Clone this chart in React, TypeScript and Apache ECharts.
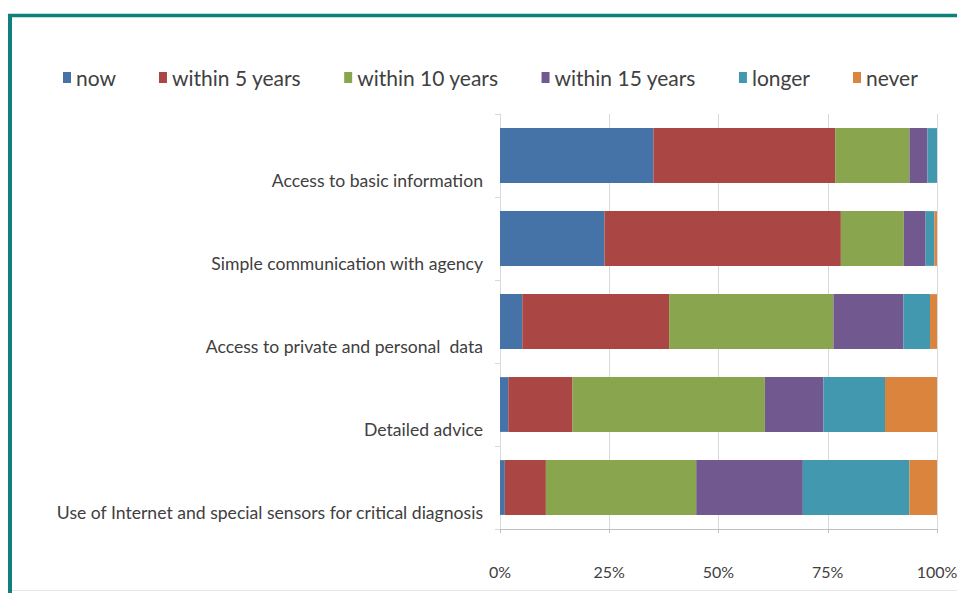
import React, { useEffect, useRef } from "react";
import * as echarts from "echarts";

const categories = [
  "Access to basic information",
  "Simple communication with agency",
  "Access to private and personal  data",
  "Detailed advice",
  "Use of Internet and special sensors for critical diagnosis",
];
const seriesNames = ["now", "within 5 years", "within 10 years", "within 15 years", "longer", "never"];
const nowVals = [35.1, 23.9, 5.1, 1.9, 1.1];
const within5Vals = [41.6, 54.1, 33.6, 14.7, 9.4];
const within10Vals = [17.0, 14.4, 37.6, 44.0, 34.4];
const within15Vals = [4.1, 5.0, 16.0, 13.4, 24.4];
const longerVals = [2.2, 2.0, 6.1, 14.1, 24.4];
const neverVals = [0.0, 0.6, 1.6, 11.9, 6.3];
const colors = ["#4572A7", "#AA4643", "#89A54E", "#71588F", "#4198AF", "#DB843D"];
const xTicks = [0, 25, 50, 75, 100];

const FONT = "Lato, 'Liberation Sans', sans-serif";

export default function App() {
  const ref = useRef<HTMLDivElement>(null);
  useEffect(() => {
    if (!ref.current) return;
    const chart = echarts.init(ref.current, undefined, { renderer: "svg" });
    const values = [nowVals, within5Vals, within10Vals, within15Vals, longerVals, neverVals];
    chart.setOption({
      animation: false,
      backgroundColor: "#ffffff",
      color: colors,
      textStyle: { fontFamily: FONT },
      legend: {
        data: seriesNames,
        left: 58,
        top: 62,
        itemWidth: 8,
        itemHeight: 11,
        itemGap: 43,
        icon: "rect",
        textStyle: { fontSize: 21, color: "#404040", fontFamily: FONT },
      },
      grid: { left: 500, right: 20, top: 114, bottom: 64, containLabel: false, outerBoundsMode: "none" },
      xAxis: {
        type: "value",
        min: 0,
        max: 100,
        interval: 25,
        axisLine: { show: true, lineStyle: { color: "#BFBFBF" } },
        axisTick: { show: true, length: 4, lineStyle: { color: "#BFBFBF" } },
        splitLine: { show: true, lineStyle: { color: "#D9D9D9" } },
        axisLabel: {
          margin: 34,
          fontSize: 16,
          color: "#404040",
          fontFamily: FONT,
          formatter: (v: number) => (xTicks.includes(v) ? v + "%" : ""),
        },
      },
      yAxis: {
        type: "category",
        data: categories,
        inverse: true,
        axisLine: { show: true, lineStyle: { color: "#D9D9D9" } },
        axisTick: { show: true, length: 5, lineStyle: { color: "#D9D9D9" } },
        axisLabel: {
          interval: 0,
          hideOverlap: false,
          margin: 17,
          fontSize: 17.6,
          lineHeight: 50,
          color: "#404040",
          fontFamily: FONT,
          formatter: (v: string) => "\n" + v,
        },
      },
      series: seriesNames.map((name, i) => ({
        name,
        type: "bar",
        stack: "total",
        barCategoryGap: "34%",
        data: values[i],
        itemStyle: { color: colors[i] },
        emphasis: { disabled: true },
      })),
      graphic: [
        { type: "line", shape: { x1: 8, y1: 15.5, x2: 957, y2: 15.5 }, style: { stroke: "#11807A", lineWidth: 3.5 } },
        { type: "line", shape: { x1: 10, y1: 14, x2: 10, y2: 593 }, style: { stroke: "#11807A", lineWidth: 4 } },
        { type: "line", shape: { x1: 12, y1: 590.5, x2: 957, y2: 590.5 }, style: { stroke: "#E6E6E6", lineWidth: 1 } },
      ],
    });
    return () => chart.dispose();
  }, []);
  return (
    <div
      ref={ref}
      style={{ position: "absolute", left: 0, top: 0, width: 957, height: 593 }}
    />
  );
}
